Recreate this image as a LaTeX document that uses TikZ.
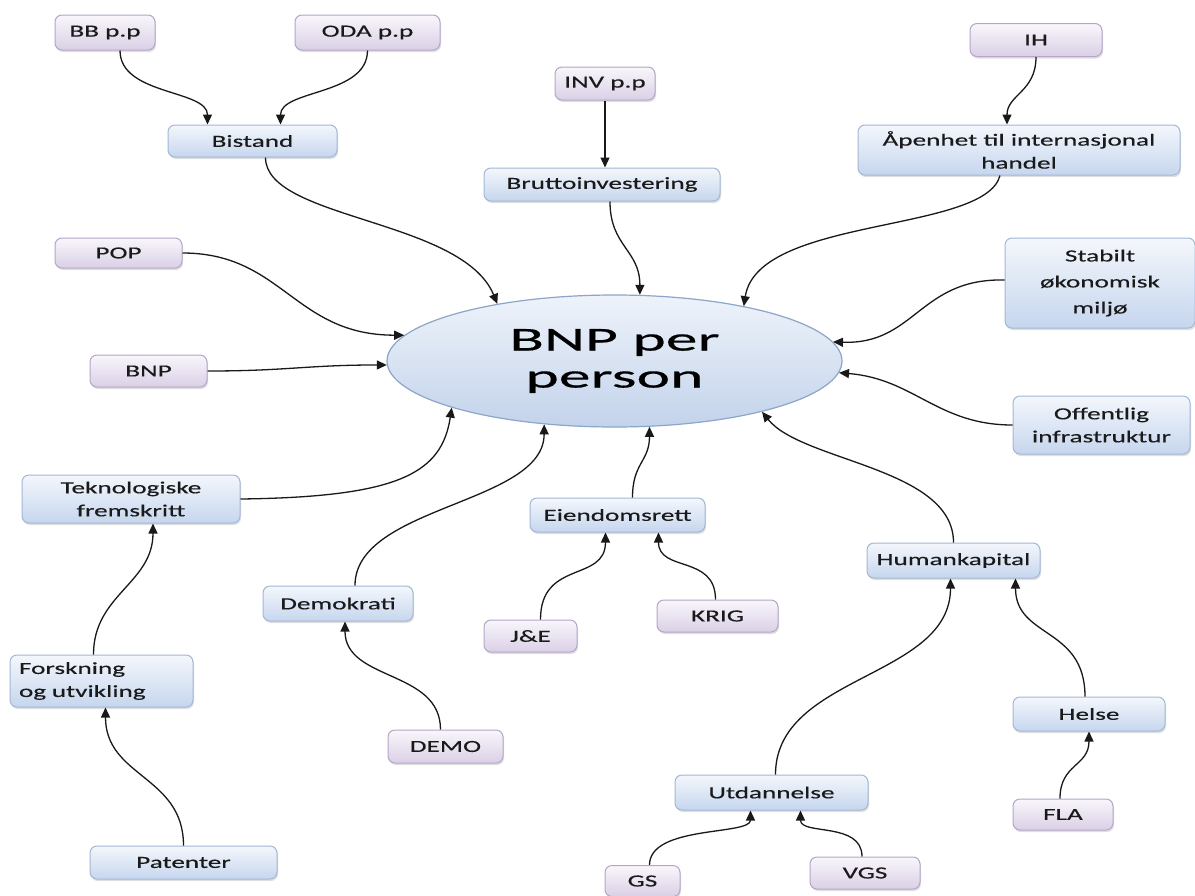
\documentclass[tikz,border=0pt]{standalone}
\usepackage{fontspec}
\usetikzlibrary{shapes.geometric,arrows.meta,shadows}
\newfontfamily\boxfont[FakeStretch=1.6,FakeBold=0.3]{Carlito}
\newfontfamily\bigfont[FakeStretch=1.9,FakeBold=0.4]{Carlito}
\definecolor{btop}{HTML}{F4F7FC}
\definecolor{bbot}{HTML}{C6D6EE}
\definecolor{bline}{HTML}{A3B8D6}
\definecolor{ptop}{HTML}{F9F6FB}
\definecolor{pbot}{HTML}{DAD0E6}
\definecolor{pline}{HTML}{B5A6C8}
\definecolor{etop}{HTML}{EEF3FA}
\definecolor{ebot}{HTML}{C3D3EB}
\definecolor{eline}{HTML}{8CA5C8}
\definecolor{txt}{HTML}{1A1A1A}
\tikzset{
  base/.style={rounded corners=7pt, line width=1pt, align=center, inner sep=2pt,
    text=txt, font=\boxfont\fontsize{17}{23}\selectfont,
    drop shadow={shadow xshift=1pt, shadow yshift=-2pt, opacity=0.25}},
  bluebox/.style={base, draw=bline, top color=btop, bottom color=bbot},
  purplebox/.style={base, draw=pline, top color=ptop, bottom color=pbot},
  sz/.style 2 args={minimum width=#1pt, minimum height=#2pt},
  arr/.style={line width=1.3pt, draw=black!90, -{Triangle[length=10pt,width=9pt]}},
}
\begin{document}
\begin{tikzpicture}[x=1pt,y=-1pt]
\clip (0,0) rectangle (1195,895);
\fill[white] (0,0) rectangle (1195,895);

% central ellipse
\node[ellipse, draw=eline, line width=1.2pt, top color=etop, bottom color=ebot,
  minimum width=455pt, minimum height=132pt, inner sep=0pt, align=center,
  text=black, font=\bigfont\fontsize{33.5}{37}\selectfont] (bnp) at (614.5,361) {BNP per\\person};

% boxes
\node[purplebox, sz={100}{35}] (bb) at (105,32.5) {BB p.p};
\node[purplebox, sz={145}{35}] (oda) at (367.5,32.5) {ODA p.p};
\node[bluebox, sz={169}{32}] (bistand) at (252.5,141) {Bistand};
\node[purplebox, sz={100}{33}] (inv) at (605,83.5) {INV p.p};
\node[bluebox, sz={236}{33}] (brutto) at (602,184.5) {Bruttoinvestering};
\node[purplebox, sz={132}{33}] (ih) at (1036,40) {IH};
\node[bluebox, sz={322}{50}] (open) at (1019,150) {Åpenhet til internasjonal\\handel};
\node[bluebox, sz={190}{90}, font=\boxfont\fontsize{17}{26}\selectfont] (stab) at (1100,283) {Stabilt\\økonomisk\\miljø};
\node[bluebox, sz={177}{58}] (off) at (1101.5,425) {Offentlig\\infrastruktur};
\node[purplebox, sz={127}{30}] (pop) at (118.5,253) {POP};
\node[purplebox, sz={117}{32}] (bnpbox) at (148.5,371) {BNP};
\node[bluebox, sz={218}{48}] (tek) at (131,499) {Teknologiske\\fremskritt};
\node[bluebox, sz={183}{52}, text width=165pt, align=left] (forsk) at (101.5,681) {Forskning\\og utvikling};
\node[bluebox, sz={187}{33}] (pat) at (183.5,862.5) {Patenter};
\node[bluebox, sz={150}{35}] (demo) at (338,603.5) {Demokrati};
\node[purplebox, sz={115}{33}] (demob) at (445.5,746.5) {DEMO};
\node[bluebox, sz={175}{34}] (eien) at (617.5,515) {Eiendomsrett};
\node[purplebox, sz={93}{32}] (je) at (530.5,636) {J\&E};
\node[purplebox, sz={121}{32}] (krig) at (717.5,616) {KRIG};
\node[bluebox, sz={173}{35}] (hum) at (953.5,560.5) {Humankapital};
\node[bluebox, sz={152}{34}] (helse) at (1089,714) {Helse};
\node[purplebox, sz={100}{31}] (fla) at (1063,814.5) {FLA};
\node[bluebox, sz={193}{35}] (utd) at (771.5,792.5) {Utdannelse};
\node[purplebox, sz={75}{31}] (gs) at (642.5,881) {GS};
\node[purplebox, sz={110}{32}] (vgs) at (865,873) {VGS};

% connectors
\draw[arr] ([xshift=15pt]bb.south) .. controls +(0,45) and +(0,-35) .. ([xshift=-45pt]bistand.north);
\draw[arr] (oda.south) .. controls +(0,45) and +(0,-35) .. ([xshift=28pt]bistand.north);
\draw[arr] ([xshift=13pt]bistand.south) .. controls +(0,62) and +(-35,-85) .. (bnp.154);
\draw[arr] (inv.south) .. controls +(0,30) and +(0,-30) .. ([xshift=3pt]brutto.north);
\draw[arr] ([xshift=8pt]brutto.south) .. controls +(0,45) and +(0,-45) .. (bnp.69);
\draw[arr] (ih.south) .. controls +(0,35) and +(0,-30) .. ([xshift=-12pt]open.north);
\draw[arr] ([xshift=-19pt]open.south) .. controls +(-15,58) and +(14,-90) .. (bnp.23);
\draw[arr] ([yshift=3pt]stab.west) .. controls +(-85,-2) and +(82,3) .. (bnp.5);
\draw[arr] (off.west) .. controls +(-75,0) and +(75,6) .. (bnp.-3);
\draw[arr] (pop.east) .. controls +(100,0) and +(-110,0) .. (bnp.173);
\draw[arr] (bnpbox.east) .. controls +(80,0) and +(-80,0) .. (bnp.181);
\draw[arr] (tek.east) .. controls +(160,-2) and +(-10,65) .. (bnp.196);
\draw[arr] ([xshift=-8pt]forsk.north) .. controls +(0,-60) and +(0,60) .. ([xshift=22pt]tek.south);
\draw[arr] (pat.north) .. controls +(0,-70) and +(0,70) .. ([xshift=4pt]forsk.south);
\draw[arr] ([xshift=17pt]demo.north) .. controls +(0,-80) and +(0,80) .. (bnp.222);
\draw[arr] ([xshift=-5pt]demob.north) .. controls +(0,-60) and +(0,60) .. ([xshift=7pt]demo.south);
\draw[arr] ([xshift=15pt]eien.north) .. controls +(0,-35) and +(0,35) .. (bnp.298);
\draw[arr] ([xshift=10pt]je.north) .. controls +(0,-60) and +(0,50) .. ([xshift=-12pt]eien.south);
\draw[arr] ([xshift=-2pt]krig.north) .. controls +(0,-45) and +(0,40) .. ([xshift=41pt]eien.south);
\draw[arr] (hum.north) .. controls +(0,-75) and +(40,50) .. (bnp.-19);
\draw[arr] ([xshift=-4pt]helse.north) .. controls +(0,-70) and +(0,60) .. ([xshift=62pt]hum.south);
\draw[arr] ([xshift=-3pt]fla.north) .. controls +(0,-35) and +(0,35) .. (helse.south);
\draw[arr] ([xshift=4pt]utd.north) .. controls +(0,-100) and +(0,100) .. ([xshift=-3pt]hum.south);
\draw[arr] ([xshift=7pt]gs.north) .. controls +(0,-40) and +(0,25) .. ([xshift=-21pt]utd.south);
\draw[arr] ([xshift=-3pt]vgs.north) .. controls +(0,-35) and +(0,25) .. ([xshift=29pt]utd.south);
\end{tikzpicture}
\end{document}
